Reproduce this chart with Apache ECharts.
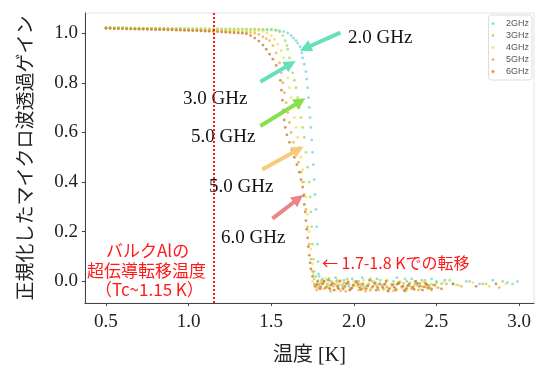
<!DOCTYPE html>
<html>
<head>
<meta charset="utf-8">
<script src="https://cdn.jsdelivr.net/npm/echarts@6/dist/echarts.min.js"></script>
<style>
html, body { margin: 0; padding: 0; background: #fff; }
#chart { width: 535px; height: 371px; }
</style>
</head>
<body>
<div id="chart"></div>
<script>
const seriesNames = ['2GHz', '3GHz', '4GHz', '5GHz', '6GHz']
const seriesColors = ['#74d4e4', '#a2e060', '#ece25a', '#eeb040', '#c97e34']
const xTicks = [0.5, 1.0, 1.5, 2.0, 2.5, 3.0]
const yTicks = [0.0, 0.2, 0.4, 0.6, 0.8, 1.0]

// 低温側の平坦部（共通の温度点）
const plateauTemps = [0.5, 0.525, 0.55, 0.575, 0.6, 0.625, 0.65, 0.675, 0.7, 0.725, 0.75, 0.775, 0.8, 0.825, 0.85, 0.875, 0.9, 0.925, 0.95, 0.975, 1.0, 1.025, 1.05, 1.075, 1.1, 1.125, 1.15, 1.175, 1.2, 1.225, 1.25, 1.275, 1.3, 1.325, 1.35, 1.375, 1.4, 1.425, 1.45, 1.475, 1.5]

const plateau2 = [1.022, 1.022, 1.021, 1.021, 1.021, 1.020, 1.020, 1.020, 1.020, 1.019, 1.019, 1.019, 1.019, 1.018, 1.018, 1.018, 1.018, 1.018, 1.017, 1.017, 1.017, 1.017, 1.017, 1.016, 1.016, 1.016, 1.016, 1.016, 1.015, 1.015, 1.015, 1.015, 1.015, 1.015, 1.014, 1.014, 1.014, 1.014, 1.013, 1.013, 1.013]
const plateau3 = [1.023, 1.023, 1.022, 1.022, 1.022, 1.021, 1.021, 1.021, 1.021, 1.020, 1.020, 1.020, 1.020, 1.020, 1.019, 1.019, 1.019, 1.019, 1.019, 1.018, 1.018, 1.018, 1.018, 1.018, 1.018, 1.017, 1.017, 1.017, 1.017, 1.017, 1.017, 1.016, 1.016, 1.016, 1.016, 1.016, 1.016, 1.015, 1.015, 1.015]
const plateau4 = [1.021, 1.021, 1.020, 1.020, 1.020, 1.019, 1.019, 1.019, 1.019, 1.018, 1.018, 1.018, 1.018, 1.017, 1.017, 1.017, 1.017, 1.016, 1.016, 1.016, 1.016, 1.015, 1.015, 1.015, 1.015, 1.014, 1.014, 1.014, 1.013, 1.013, 1.013, 1.012, 1.012, 1.012, 1.011, 1.011, 1.010, 1.010]
const plateau5 = [1.020, 1.020, 1.019, 1.019, 1.019, 1.018, 1.018, 1.018, 1.017, 1.017, 1.017, 1.016, 1.016, 1.016, 1.015, 1.015, 1.015, 1.014, 1.014, 1.014, 1.013, 1.013, 1.012, 1.012, 1.011, 1.011, 1.010, 1.010, 1.009, 1.008, 1.007, 1.006, 1.005, 1.004, 1.003, 1.002]
const plateau6 = [1.019, 1.019, 1.018, 1.018, 1.018, 1.017, 1.017, 1.016, 1.016, 1.016, 1.015, 1.015, 1.014, 1.014, 1.014, 1.013, 1.013, 1.012, 1.012, 1.011, 1.011, 1.010, 1.010, 1.009, 1.008, 1.007, 1.006, 1.005, 1.004, 1.003, 1.002, 1.001, 1.0, 0.999]

// 転移部 [温度, ゲイン]
const drop2 = [[1.525, 1.012], [1.55, 1.01], [1.575, 1.006], [1.6, 1.0], [1.62, 0.99], [1.635, 0.98], [1.65, 0.97], [1.66, 0.96], [1.675, 0.945], [1.685, 0.92], [1.69, 0.9], [1.7, 0.875], [1.71, 0.845], [1.715, 0.815], [1.72, 0.78], [1.725, 0.74], [1.73, 0.70], [1.735, 0.66], [1.74, 0.62], [1.745, 0.57], [1.75, 0.52], [1.755, 0.47], [1.76, 0.41], [1.765, 0.35], [1.77, 0.29], [1.775, 0.22], [1.78, 0.15], [1.783, 0.08], [1.786, 0.03]]
const drop3 = [[1.5, 1.015], [1.53, 1.012], [1.55, 1.005], [1.57, 0.99], [1.585, 0.97], [1.595, 0.95], [1.6, 0.935], [1.61, 0.9], [1.62, 0.87], [1.63, 0.84], [1.64, 0.81], [1.65, 0.78], [1.66, 0.74], [1.67, 0.7], [1.68, 0.66], [1.69, 0.62], [1.7, 0.58], [1.71, 0.52], [1.72, 0.46], [1.73, 0.40], [1.735, 0.34], [1.74, 0.28], [1.745, 0.22], [1.75, 0.15], [1.755, 0.09], [1.76, 0.04]]
const drop4 = [[1.45, 1.008], [1.475, 1.0], [1.5, 0.99], [1.52, 0.975], [1.54, 0.955], [1.56, 0.93], [1.575, 0.9], [1.59, 0.86], [1.6, 0.82], [1.61, 0.78], [1.62, 0.74], [1.63, 0.70], [1.64, 0.66], [1.65, 0.62], [1.66, 0.58], [1.67, 0.54], [1.68, 0.50], [1.69, 0.45], [1.7, 0.40], [1.71, 0.34], [1.72, 0.27], [1.73, 0.20], [1.74, 0.13], [1.75, 0.07], [1.755, 0.03]]
const drop5 = [[1.4, 1.0], [1.425, 0.995], [1.45, 0.985], [1.47, 0.978], [1.49, 0.97], [1.51, 0.95], [1.53, 0.92], [1.55, 0.88], [1.56, 0.84], [1.57, 0.8], [1.58, 0.76], [1.59, 0.72], [1.6, 0.68], [1.61, 0.64], [1.62, 0.6], [1.635, 0.56], [1.65, 0.52], [1.665, 0.48], [1.68, 0.44], [1.69, 0.40], [1.7, 0.35], [1.71, 0.29], [1.72, 0.22], [1.73, 0.15], [1.74, 0.09], [1.75, 0.04]]
const drop6 = [[1.35, 0.997], [1.375, 0.99], [1.4, 0.98], [1.425, 0.968], [1.45, 0.952], [1.47, 0.935], [1.49, 0.915], [1.51, 0.895], [1.53, 0.87], [1.545, 0.845], [1.555, 0.81], [1.562, 0.77], [1.568, 0.73], [1.573, 0.69], [1.578, 0.65], [1.585, 0.62], [1.595, 0.59], [1.61, 0.56], [1.625, 0.53], [1.64, 0.5], [1.655, 0.47], [1.67, 0.44], [1.68, 0.41], [1.69, 0.38], [1.695, 0.345], [1.7, 0.31], [1.705, 0.28], [1.71, 0.245], [1.715, 0.21], [1.72, 0.175], [1.725, 0.14], [1.73, 0.105], [1.735, 0.075], [1.74, 0.05], [1.75, 0.02]]

// 常伝導側（ゲイン≈0）
const floor2 = [[1.77, 0.02], [1.79, -0.01], [1.81, 0.01], [1.84, -0.02], [1.86, 0.0], [1.89, 0.015], [1.91, -0.015], [1.94, 0.005], [1.97, -0.02], [1.99, 0.01], [2.02, -0.005], [2.05, 0.015], [2.08, -0.02], [2.11, 0.0], [2.14, 0.01], [2.17, -0.015], [2.2, 0.005], [2.23, -0.01], [2.26, 0.015], [2.29, -0.02], [2.32, 0.0], [2.35, 0.01], [2.38, -0.015], [2.41, 0.005], [2.44, -0.01], [2.47, 0.01], [2.5, -0.005], [2.55, 0.005], [2.6, -0.01], [2.68, 0.0], [2.76, -0.01], [2.84, 0.005], [2.93, -0.005], [2.99, 0.0]]
const floor3 = [[1.76, 0.01], [1.775, -0.015], [1.79, 0.02], [1.8, -0.005], [1.82, 0.0], [1.835, -0.02], [1.85, 0.012], [1.87, -0.01], [1.9, 0.005], [1.93, -0.025], [1.96, 0.01], [2.0, -0.015], [2.03, 0.0], [2.07, -0.02], [2.1, 0.01], [2.13, -0.01], [2.16, 0.005], [2.2, -0.025], [2.24, 0.0], [2.27, -0.01], [2.31, 0.01], [2.34, -0.02], [2.37, 0.0], [2.4, -0.01], [2.43, 0.005], [2.46, -0.015], [2.5, 0.0], [2.53, -0.01], [2.58, 0.005], [2.63, -0.015], [2.7, 0.0], [2.8, -0.01], [2.9, 0.0], [2.96, -0.01]]
const floor4 = [[1.75, 0.0], [1.77, -0.025], [1.785, 0.005], [1.8, -0.03], [1.815, -0.01], [1.83, 0.01], [1.85, -0.02], [1.87, 0.0], [1.885, -0.035], [1.9, -0.01], [1.92, 0.005], [1.94, -0.025], [1.96, -0.005], [1.98, -0.03], [2.0, 0.0], [2.02, -0.02], [2.04, -0.035], [2.06, 0.005], [2.08, -0.015], [2.1, -0.03], [2.12, 0.0], [2.14, -0.02], [2.16, -0.01], [2.18, -0.035], [2.2, 0.005], [2.22, -0.025], [2.24, -0.01], [2.26, -0.03], [2.28, 0.0], [2.3, -0.02], [2.32, -0.035], [2.34, -0.005], [2.36, -0.025], [2.38, -0.01], [2.4, -0.03], [2.42, 0.0], [2.44, -0.02], [2.47, -0.01], [2.5, -0.025], [2.54, -0.005], [2.62, -0.015], [2.72, -0.005], [2.82, -0.02], [2.92, -0.01]]
const floor5 = [[1.76, -0.01], [1.775, -0.035], [1.785, -0.025], [1.79, -0.015], [1.805, 0.005], [1.815, -0.005], [1.82, -0.03], [1.84, -0.01], [1.85, -0.028], [1.86, -0.04], [1.875, -0.02], [1.885, -0.012], [1.895, 0.0], [1.91, -0.03], [1.92, -0.038], [1.93, -0.015], [1.94, -0.006], [1.95, -0.04], [1.97, -0.01], [1.98, -0.032], [1.99, -0.025], [2.0, -0.018], [2.01, -0.005], [2.03, -0.035], [2.04, -0.012], [2.05, -0.02], [2.06, -0.028], [2.07, -0.04], [2.09, -0.01], [2.1, -0.036], [2.11, -0.025], [2.13, -0.005], [2.14, -0.018], [2.15, -0.035], [2.17, -0.02], [2.18, -0.03], [2.19, -0.01], [2.2, -0.022], [2.21, -0.04], [2.23, -0.015], [2.24, -0.038], [2.25, -0.03], [2.26, -0.012], [2.27, -0.005], [2.29, -0.025], [2.3, -0.008], [2.31, -0.04], [2.32, -0.028], [2.33, -0.015], [2.35, -0.03], [2.36, -0.02], [2.37, -0.01], [2.39, -0.035], [2.4, -0.008], [2.41, -0.02], [2.43, -0.005], [2.44, -0.025], [2.45, -0.03], [2.47, -0.035], [2.48, -0.015], [2.51, -0.025], [2.56, -0.01], [2.65, -0.02], [2.78, -0.01], [2.88, -0.025]]
const floor6 = [[1.765, -0.02], [1.775, -0.012], [1.78, 0.0], [1.795, -0.03], [1.8, -0.022], [1.81, -0.01], [1.82, 0.0], [1.83, -0.025], [1.845, 0.005], [1.855, -0.03], [1.86, -0.015], [1.87, -0.008], [1.88, -0.035], [1.9, -0.02], [1.905, -0.028], [1.915, 0.0], [1.935, -0.03], [1.945, -0.02], [1.955, -0.01], [1.965, -0.002], [1.975, -0.035], [1.985, -0.028], [1.995, -0.015], [2.015, 0.0], [2.025, -0.012], [2.035, -0.025], [2.045, -0.032], [2.055, -0.01], [2.075, -0.03], [2.085, -0.018], [2.095, 0.005], [2.115, -0.02], [2.125, -0.008], [2.135, -0.035], [2.145, -0.026], [2.155, -0.01], [2.175, -0.025], [2.185, -0.012], [2.195, 0.0], [2.205, -0.038], [2.215, -0.03], [2.235, -0.015], [2.245, -0.024], [2.255, -0.035], [2.265, -0.01], [2.275, -0.005], [2.295, -0.02], [2.305, -0.036], [2.315, -0.03], [2.325, -0.018], [2.335, -0.01], [2.355, -0.025], [2.365, -0.032], [2.375, 0.0], [2.385, -0.008], [2.395, -0.02], [2.415, -0.035], [2.425, -0.022], [2.435, -0.01], [2.445, -0.015], [2.455, -0.025], [2.47, -0.03], [2.49, -0.015], [2.53, -0.03], [2.6, -0.01], [2.74, -0.02], [2.86, -0.01]]

const plateaus = [plateau2, plateau3, plateau4, plateau5, plateau6]
const drops = [drop2, drop3, drop4, drop5, drop6]
const floors = [floor2, floor3, floor4, floor5, floor6]

// 矢印 [始点, 終点, 色]
const arrows = [
  [[1.918, 1.002], [1.706, 0.939], '#66e0bc'],
  [[1.434, 0.804], [1.616, 0.875], '#66e0bc'],
  [[1.434, 0.626], [1.676, 0.725], '#88e04c'],
  [[1.446, 0.451], [1.664, 0.531], '#f7ca7c'],
  [[1.507, 0.253], [1.664, 0.333], '#ea8686']
]
const bulkTc = 1.15

const serif = '"Liberation Serif", "Noto Sans CJK JP", serif'
const cjk = '"Noto Sans CJK JP", sans-serif'

const chart = echarts.init(document.getElementById('chart'))

const series = seriesNames.map((name, i) => {
  const flat = plateaus[i].map((v, k) => [plateauTemps[k], v])
  const item = {
    name: name,
    type: 'scatter',
    symbolSize: 2.8,
    itemStyle: { color: seriesColors[i] },
    data: flat.concat(drops[i], floors[i])
  }
  if (i === seriesNames.length - 1) {
    item.markLine = {
      silent: true,
      animation: false,
      symbol: ['none', 'none'],
      label: { show: false },
      emphasis: { disabled: true },
      data: arrows.map(a => [
        { coord: a[0], symbol: 'none', lineStyle: { color: a[2], width: 4, type: 'solid' } },
        { coord: a[1], symbol: 'triangle', symbolSize: 12 }
      ]).concat([
        { xAxis: bulkTc, lineStyle: { color: '#ff1a1a', width: 2, type: [2, 2] } }
      ])
    }
  }
  return item
})

chart.setOption({
  animation: false,
  grid: {
    left: 85,
    right: 1,
    top: 13,
    bottom: 63,
    show: true,
    borderColor: '#e4e4e4',
    borderWidth: 1
  },
  legend: {
    data: seriesNames,
    orient: 'vertical',
    right: 3,
    top: 15,
    icon: 'circle',
    itemWidth: 16,
    itemHeight: 3,
    itemGap: 1,
    padding: [3, 3, 3, 3],
    borderColor: '#dddddd',
    borderWidth: 1,
    borderRadius: 3,
    textStyle: { fontSize: 9, lineHeight: 11, color: '#555', fontFamily: '"Liberation Sans", sans-serif' }
  },
  xAxis: {
    type: 'value',
    min: 0.373,
    max: 3.09,
    name: '温度 [K]',
    nameLocation: 'middle',
    nameGap: 43,
    nameTextStyle: { fontSize: 20, color: '#222', fontFamily: serif },
    axisLine: { show: true, onZero: false, lineStyle: { color: '#444', width: 1 } },
    axisTick: { show: true, length: 3, customValues: xTicks, lineStyle: { color: '#444' } },
    axisLabel: {
      customValues: xTicks,
      formatter: v => v.toFixed(1),
      fontSize: 19,
      margin: 10,
      color: '#222',
      fontFamily: serif
    },
    splitLine: { show: false }
  },
  yAxis: {
    type: 'value',
    min: -0.087,
    max: 1.081,
    name: '正規化したマイクロ波透過ゲイン',
    nameLocation: 'middle',
    nameGap: 51,
    nameTextStyle: { fontSize: 19, color: '#222', fontFamily: cjk },
    axisLine: { show: true, onZero: false, lineStyle: { color: '#444', width: 1 } },
    axisTick: { show: true, length: 3, customValues: yTicks, lineStyle: { color: '#444' } },
    axisLabel: {
      customValues: yTicks,
      formatter: v => v.toFixed(1),
      fontSize: 19,
      margin: 7,
      color: '#222',
      fontFamily: serif
    },
    splitLine: { show: false }
  },
  series: series,
  graphic: [
    { type: 'text', left: 348, top: 29, style: { text: '2.0 GHz', font: '19px ' + serif, fill: '#111' } },
    { type: 'text', left: 183, top: 90, style: { text: '3.0 GHz', font: '19px ' + serif, fill: '#111' } },
    { type: 'text', left: 191, top: 128, style: { text: '5.0 GHz', font: '19px ' + serif, fill: '#111' } },
    { type: 'text', left: 209, top: 178, style: { text: '5.0 GHz', font: '19px ' + serif, fill: '#111' } },
    { type: 'text', left: 221, top: 229, style: { text: '6.0 GHz', font: '19px ' + serif, fill: '#111' } },
    { type: 'text', left: 106, top: 242, style: { text: 'バルクAlの', font: '17px ' + cjk, fill: '#ff1a1a' } },
    { type: 'text', left: 87, top: 262, style: { text: '超伝導転移温度', font: '17px ' + cjk, fill: '#ff1a1a' } },
    { type: 'text', left: 95, top: 281, style: { text: '（Tc~1.15 K）', font: '17px ' + cjk, fill: '#ff1a1a' } },
    { type: 'text', left: 322, top: 255, style: { text: '← 1.7-1.8 Kでの転移', font: '16px ' + cjk, fill: '#ff1a1a' } }
  ]
})
</script>
</body>
</html>
